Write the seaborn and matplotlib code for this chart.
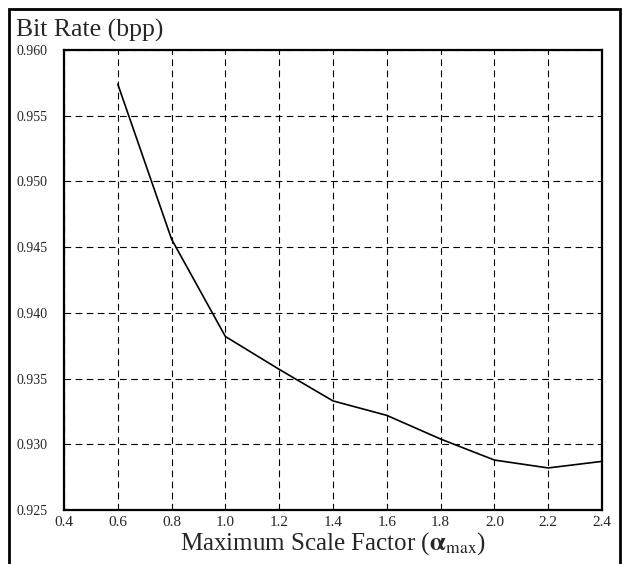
import matplotlib
matplotlib.use("Agg")
import matplotlib.pyplot as plt
import seaborn as sns
import pandas as pd
from matplotlib.patches import Rectangle

# Data
scale_factor = [0.6, 0.8, 1.0, 1.2, 1.4, 1.6, 1.8, 2.0, 2.2, 2.4]
bit_rate = [0.9574, 0.9456, 0.9382, 0.9357, 0.9333, 0.9322, 0.9304, 0.9288, 0.9282, 0.9287]
x_ticks = [0.4, 0.6, 0.8, 1.0, 1.2, 1.4, 1.6, 1.8, 2.0, 2.2, 2.4]
x_tick_labels = ["0.4", "0.6", "0.8", "1.0", "1.2", "1.4", "1.6", "1.8", "2.0", "2.2", "2.4"]
y_ticks = [0.925, 0.930, 0.935, 0.940, 0.945, 0.950, 0.955, 0.960]
y_tick_labels = ["0.925", "0.930", "0.935", "0.940", "0.945", "0.950", "0.955", "0.960"]

df = pd.DataFrame({"alpha": scale_factor, "rate": bit_rate})

sns.set_style("white")
plt.rcParams["font.family"] = ["Liberation Serif", "DejaVu Serif"]
plt.rcParams["mathtext.fontset"] = "stix"

fig = plt.figure(figsize=(6.23, 5.64), dpi=100)
ax = fig.add_axes([64 / 623, 54 / 564, 538 / 623, 460 / 564])

sns.lineplot(data=df, x="alpha", y="rate", ax=ax, color="black", linewidth=1.2)

ax.set_xlim(0.4, 2.4)
ax.set_ylim(0.925, 0.960)
ax.set_xticks(x_ticks)
ax.set_xticklabels(x_tick_labels, fontsize=11)
ax.set_yticks(y_ticks)
ax.set_yticklabels(y_tick_labels, fontsize=10)
ax.tick_params(axis="both", length=0)
ax.tick_params(axis="x", pad=4)
ax.tick_params(axis="y", pad=12)

ax.grid(True, color="black", linestyle=(0, (6, 4)), linewidth=0.8)
for s in ax.spines.values():
    s.set_color("black")
    s.set_linewidth(1.6)

ax.set_xlabel(r"Maximum Scale Factor ($\mathbf{\alpha}_{\rm max}$)", fontsize=18, labelpad=1)
ax.set_ylabel("")
fig.text(16 / 623, 1 - 30 / 564, "Bit Rate (bpp)", fontsize=18.5, ha="left", va="center")

# figure frame
fig.patches.append(Rectangle((8.5 / 623, -0.05), 611 / 623, 1.05 - 8.5 / 564, transform=fig.transFigure,
                             fill=False, edgecolor="black", linewidth=2, zorder=10))

fig.savefig("out.png", dpi=100)
